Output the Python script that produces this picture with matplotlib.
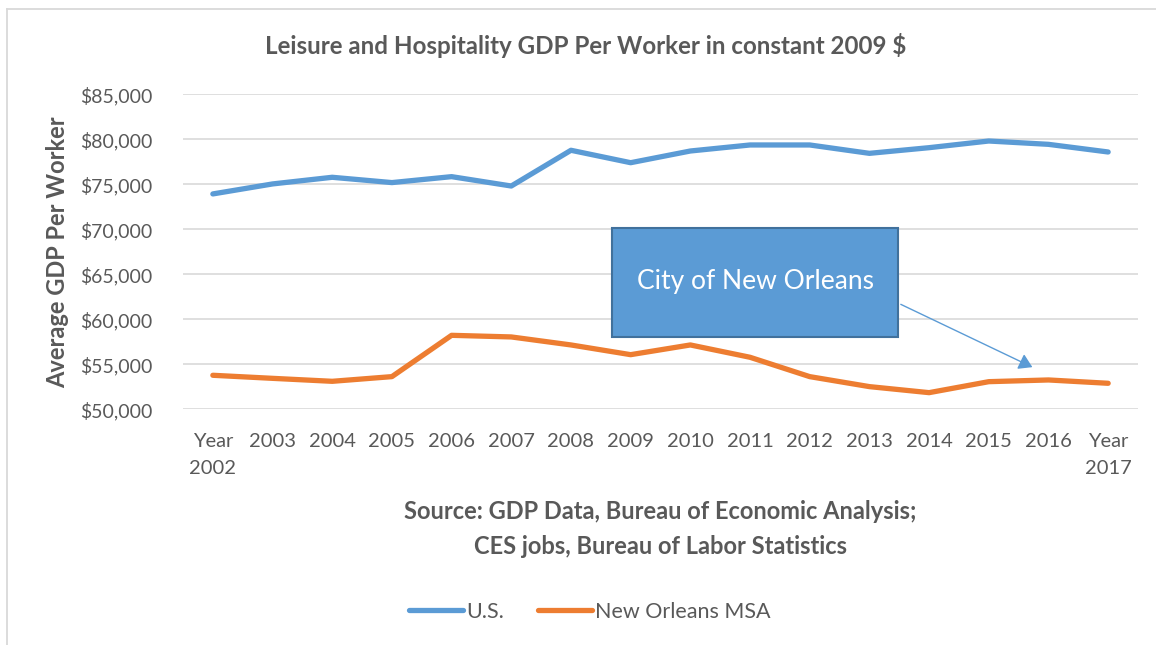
import numpy as np
import matplotlib
matplotlib.use("Agg")
import matplotlib.pyplot as plt
from matplotlib.patches import Rectangle, FancyArrowPatch
from matplotlib.lines import Line2D
from matplotlib.ticker import FuncFormatter, MultipleLocator

# data
years = ["Year\n2002", "2003", "2004", "2005", "2006", "2007", "2008", "2009",
         "2010", "2011", "2012", "2013", "2014", "2015", "2016", "Year\n2017"]
us_gdp = [73930, 75040, 75780, 75190, 75850, 74810, 78780, 77400,
          78700, 79370, 79370, 78440, 79070, 79810, 79440, 78590]
msa_gdp = [53780, 53440, 53110, 53630, 58220, 58040, 57150, 56070,
           57150, 55780, 53630, 52520, 51850, 53070, 53260, 52890]

BLUE = "#5B9BD5"
ORANGE = "#ED7D31"
GRAY = "#595959"
FONT = ["Lato", "DejaVu Sans"]
plt.rcParams['font.family'] = FONT

fig = plt.figure(figsize=(11.56, 6.45), dpi=100)
ax = fig.add_axes([183/1156, 1-409.3/645, 955/1156, 315/645])

x = np.arange(len(years))
ax.plot(x, us_gdp, color=BLUE, lw=3.8, solid_capstyle='round', label="U.S.", zorder=3)
ax.plot(x, msa_gdp, color=ORANGE, lw=3.8, solid_capstyle='round', label="New Orleans MSA", zorder=3)

ax.set_xlim(-0.5, len(years) - 0.5)
ax.set_ylim(50000, 85000)
ax.yaxis.set_major_locator(MultipleLocator(5000))
ax.yaxis.set_major_formatter(FuncFormatter(lambda v, p: "${:,.0f}".format(v)))
ax.set_xticks(x)
ax.set_xticklabels(years, fontsize=14.5, color=GRAY, linespacing=1.75, va='top')
ax.tick_params(axis='y', labelsize=14, labelcolor=GRAY, length=0, pad=22)
ax.tick_params(axis='x', length=0, pad=17)
ax.grid(axis='y', color="#D9D9D9", lw=1.2)
ax.set_axisbelow(True)
for s in ax.spines.values():
    s.set_visible(False)

ax.set_ylabel("Average GDP Per Worker", fontsize=17, fontweight='bold', color=GRAY, labelpad=8)
ax.set_xlabel("Source: GDP Data, Bureau of Economic Analysis;\nCES jobs, Bureau of Labor Statistics",
              fontsize=17, fontweight='bold', color=GRAY, linespacing=1.65, labelpad=16)

fig.text(586/1156, 1-45/645, "Leisure and Hospitality GDP Per Worker in constant 2009 $",
         fontsize=17.4, fontweight='bold', color=GRAY, ha='center', va='center')

# callout box and arrow
box = Rectangle((0.449, 0.2295), 0.30, 0.346, transform=ax.transAxes,
                facecolor=BLUE, edgecolor="#41719C", lw=1.5, zorder=5)
ax.add_patch(box)
ax.text(0.599, 0.405, "City of New Orleans", transform=ax.transAxes, color="white",
        fontsize=19, ha='center', va='center', zorder=6)
arr = FancyArrowPatch((0.749, 0.337), (0.892, 0.13), transform=ax.transAxes,
                      arrowstyle='-|>,head_length=8,head_width=5', color=BLUE, lw=1, zorder=6)
ax.add_patch(arr)

# legend
handles = [Line2D([], [], color=BLUE, lw=3.8, solid_capstyle='round'),
           Line2D([], [], color=ORANGE, lw=3.8, solid_capstyle='round')]
leg = fig.legend(handles, ["U.S.", "New Orleans MSA"], loc='center', bbox_to_anchor=(590/1156, 1-612/645),
                 ncol=2, frameon=False, fontsize=15.5, handlelength=2.5, handletextpad=0.15,
                 columnspacing=1.6)
for t in leg.get_texts():
    t.set_color(GRAY)

# outer chart border (left and top visible)
fig.add_artist(Line2D([7/1156, 7/1156], [0, 1-9/645], color="#D9D9D9", lw=1.3))
fig.add_artist(Line2D([7/1156, 1], [1-9/645, 1-9/645], color="#D9D9D9", lw=1.3))

fig.savefig("out.png", dpi=100, facecolor='white')
